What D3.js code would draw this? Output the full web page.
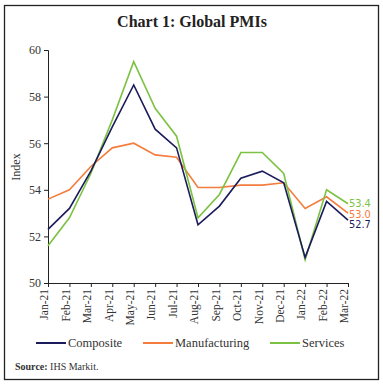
<!DOCTYPE html>
<html><head><meta charset="utf-8">
<script src="https://cdn.jsdelivr.net/npm/d3@7"></script>
<style>body{margin:0;background:#fff}svg{display:block}</style>
</head><body>
<script>
const months = ["Jan-21","Feb-21","Mar-21","Apr-21","May-21","Jun-21","Jul-21","Aug-21","Sep-21","Oct-21","Nov-21","Dec-21","Jan-22","Feb-22","Mar-22"];
const composite = [52.3,53.2,54.8,56.7,58.5,56.6,55.8,52.5,53.3,54.5,54.8,54.3,51.1,53.5,52.7];
const manufacturing = [53.6,54.0,55.0,55.8,56.0,55.5,55.4,54.1,54.1,54.2,54.2,54.3,53.2,53.7,53.0];
const services = [51.6,52.8,54.7,57.0,59.5,57.5,56.3,52.8,53.8,55.6,55.6,54.7,51.0,54.0,53.4];
const yTicks = [50,52,54,56,58,60];
const seriesNames = ["Composite","Manufacturing","Services"];
const colors = ["#1c1c5c","#f47c3c","#7cc242"];

const W=383,H=385;
const svg=d3.select("body").append("svg").attr("width",W).attr("height",H);
svg.append("rect").attr("x",4.5).attr("y",5.5).attr("width",374).attr("height",374)
  .attr("fill","none").attr("stroke","#222").attr("stroke-width",1.3);
svg.append("text").attr("x",192).attr("y",27).attr("text-anchor","middle")
  .attr("font-family","Liberation Serif, serif").attr("font-weight","bold").attr("font-size",16)
  .attr("fill","#222").text("Chart 1: Global PMIs");

const x=d3.scalePoint().domain(months).range([48,348]);
const y=d3.scaleLinear().domain([50,60]).range([283,50]);

const gy=svg.append("g").attr("transform","translate(48,0)")
  .call(d3.axisLeft(y).tickValues(yTicks).tickSize(4).tickPadding(3));
gy.selectAll("text").attr("font-family","Liberation Serif, serif").attr("font-size",12).attr("fill","#333");
const gx=svg.append("g").attr("transform","translate(0,283)")
  .call(d3.axisBottom(x).tickSize(4).tickSizeOuter(0));
gx.selectAll("text").attr("font-family","Liberation Serif, serif").attr("font-size",11.5).attr("fill","#333")
  .attr("transform","rotate(-90)").attr("text-anchor","end").attr("dx","-6").attr("dy","-0.25em").attr("x",0).attr("y",0)
  .attr("dominant-baseline","middle");
svg.selectAll(".domain, .tick line").attr("stroke","#222").attr("stroke-width",1);

svg.append("text").attr("transform","translate(20,167) rotate(-90)").attr("text-anchor","middle")
  .attr("font-family","Liberation Serif, serif").attr("font-size",12).attr("fill","#333").text("Index");

const data=[composite,manufacturing,services];
const line=d3.line().x((d,i)=>x(months[i])).y(d=>y(d));
[1,2,0].forEach(k=>{
  svg.append("path").datum(data[k]).attr("d",line).attr("fill","none")
    .attr("stroke",colors[k]).attr("stroke-width",1.6);
});
[2,1,0].forEach((k,j)=>{
  const v=data[k][data[k].length-1];
  const ly=[204,214.5,225][j];
  svg.append("text").attr("x",349).attr("y",ly).attr("dominant-baseline","middle")
    .attr("font-family","DejaVu Sans, sans-serif").attr("font-size",9.8).attr("fill",colors[k])
    .text(v.toFixed(1));
});

const legX=[36,143,270];
seriesNames.forEach((n,i)=>{
  svg.append("line").attr("x1",legX[i]).attr("x2",legX[i]+30).attr("y1",343).attr("y2",343)
    .attr("stroke",colors[i]).attr("stroke-width",2);
  svg.append("text").attr("x",legX[i]+32).attr("y",347).attr("font-family","Liberation Serif, serif")
    .attr("font-size",12.5).attr("fill","#333").text(n);
});
const src=svg.append("text").attr("x",15).attr("y",370).attr("font-family","Liberation Serif, serif")
  .attr("font-size",10).attr("fill","#333");
src.append("tspan").attr("font-weight","bold").text("Source:");
src.append("tspan").text(" IHS Markit.");
</script>
</body></html>
